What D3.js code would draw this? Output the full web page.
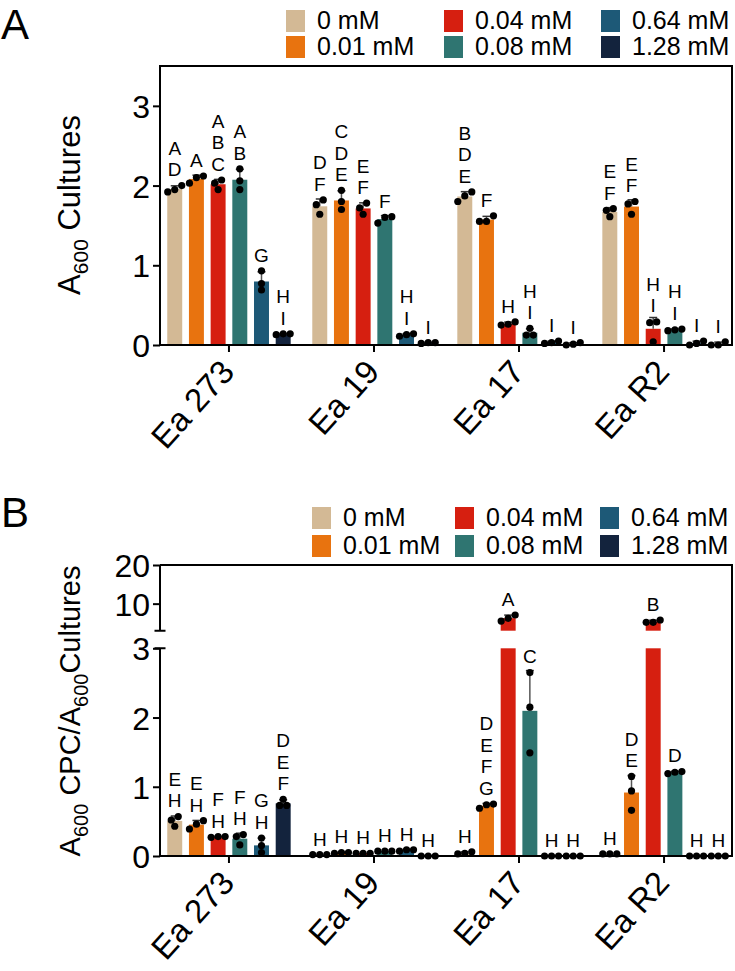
<!DOCTYPE html>
<html>
<head>
<meta charset="utf-8">
<script src="https://cdn.jsdelivr.net/npm/d3@7"></script>
<style>
  body { margin: 0; background: #fff; }
  svg { display: block; font-family: "Liberation Sans", Arial, sans-serif; }
</style>
</head>
<body>
<div id="chart"></div>
<script>
// groups and treatment concentrations
const groups = ["Ea 273", "Ea 19", "Ea 17", "Ea R2"];
const concs = ["0 mM", "0.01 mM", "0.04 mM", "0.08 mM", "0.64 mM", "1.28 mM"];
const colors = ["#D3B995", "#E8730F", "#D61F10", "#2F7571", "#1D5977", "#13233D"];

// panel A: A600 of cultures, three replicates per concentration
const growth273 = [[2.00, 1.92, 1.95], [2.12, 2.03, 2.10], [2.07, 1.95, 2.03], [2.21, 2.06, 1.95], [0.93, 0.77, 0.69], [0.13, 0.14, 0.14]];
const growth19 = [[1.82, 1.64, 1.76], [1.94, 1.80, 1.70], [1.78, 1.64, 1.72], [1.61, 1.53, 1.60], [0.11, 0.14, 0.13], [0.02, 0.03, 0.03]];
const growth17 = [[1.92, 1.80, 1.87], [1.55, 1.62, 1.55], [0.26, 0.29, 0.25], [0.125, 0.21, 0.125], [0.02, 0.05, 0.03], [0.00, 0.03, 0.01]];
const growthR2 = [[1.71, 1.61, 1.69], [1.80, 1.64, 1.77], [0.29, 0.28, 0.04], [0.19, 0.20, 0.18], [0.00, 0.05, 0.02], [0.00, 0.04, 0.00]];
const growthLetters = [
  ["AD", "A", "ABC", "AB", "G", "HI"],
  ["DF", "CDE", "EF", "F", "HI", "I"],
  ["BDE", "F", "H", "HI", "I", "I"],
  ["EF", "EF", "HI", "HI", "I", "I"]
];

// panel B: A600 CPC / A600 cultures
const ratio273 = [[0.57, 0.43, 0.52], [0.51, 0.39, 0.46], [0.27, 0.28, 0.28], [0.31, 0.16, 0.28], [0.26, 0.15, 0.05], [0.82, 0.73, 0.73]];
const ratio19 = [[0.02, 0.02, 0.02], [0.04, 0.05, 0.05], [0.04, 0.04, 0.04], [0.07, 0.07, 0.07], [0.07, 0.09, 0.09], [0.00, 0.00, 0.00]];
const ratio17 = [[0.03, 0.06, 0.04], [0.69, 0.75, 0.74], [5.5, 7.06, 6.2], [2.65, 2.15, 1.49], [0.00, 0.00, 0.00], [0.00, 0.00, 0.00]];
const ratioR2 = [[0.03, 0.03, 0.03], [1.15, 0.94, 0.66], [5.17, 5.77, 5.17], [1.21, 1.22, 1.19], [0.00, 0.00, 0.00], [0.00, 0.00, 0.00]];
const ratioLetters = [
  ["EH", "EH", "FH", "FH", "GH", "DEF"],
  ["H", "H", "H", "H", "H", "H"],
  ["H", "DEFG", "A", "C", "H", "H"],
  ["H", "DE", "B", "D", "H", "H"]
];

const yTicksA = [0, 1, 2, 3];
const yTicksBLow = [0, 1, 2, 3];
const yTicksBHigh = [10, 20];

const W = 735, H = 971;
const left = 160, right = 732;

const svg = d3.select("#chart").append("svg")
  .attr("width", W)
  .attr("height", H);

const x0 = d3.scaleBand().domain(groups).range([left, right + 1])
  .paddingInner(0.149).paddingOuter(0.05);
const x1 = d3.scaleBand().domain(concs).range([0, x0.bandwidth()])
  .paddingInner(0.31).paddingOuter(0);

function stats(pts) {
  const m = d3.mean(pts);
  const sd = d3.deviation(pts) || 0;
  return { m, sd };
}

// spread replicate dots sideways when they overlap
function dotOffsets(pts, yf) {
  const idx = pts.map((p, i) => i).sort((a, b) => pts[a] - pts[b]);
  const off = new Array(pts.length).fill(0);
  let cluster = [idx[0]];
  const flush = () => {
    const n = cluster.length;
    cluster.forEach((k, i) => { off[k] = (i - (n - 1) / 2) * 7; });
  };
  for (let i = 1; i < idx.length; i++) {
    if (Math.abs(yf(pts[idx[i]]) - yf(pts[cluster[cluster.length - 1]])) < 6) {
      cluster.push(idx[i]);
    } else { flush(); cluster = [idx[i]]; }
  }
  flush();
  return off;
}

function drawLegend(g, cols, rows) {
  concs.forEach((c, i) => {
    const cx = cols[Math.floor(i / 2)], cy = rows[i % 2];
    g.append("rect").attr("x", cx).attr("y", cy).attr("width", 19).attr("height", 22)
      .attr("fill", colors[i]);
    g.append("text").attr("x", cx + 31).attr("y", cy + 19)
      .attr("font-size", 25).text(c);
  });
}

function drawPanel(opts) {
  const g = svg.append("g");
  const { yf, data, letters, base } = opts;

  // bars
  data.forEach((rowVals, gi) => {
    rowVals.forEach((pts, ci) => {
      const bx = x0(groups[gi]) + x1(concs[ci]);
      const bw = x1.bandwidth();
      const s = stats(pts);
      const segs = opts.barSegments(s.m);
      segs.forEach(sg => {
        g.append("rect").attr("x", bx).attr("width", bw)
          .attr("y", Math.min(sg[0], sg[1])).attr("height", Math.abs(sg[1] - sg[0]))
          .attr("fill", colors[ci]);
      });
      const cxm = bx + bw / 2;
      // error bar (upper half)
      const yTop = yf(s.m + s.sd), yM = yf(s.m);
      if (s.sd > 0) {
        g.append("line").attr("x1", cxm).attr("x2", cxm).attr("y1", yM).attr("y2", yTop)
          .attr("stroke", "#555").attr("stroke-width", 1.5);
        g.append("line").attr("x1", cxm - 4).attr("x2", cxm + 4).attr("y1", yTop).attr("y2", yTop)
          .attr("stroke", "#333").attr("stroke-width", 1.5);
      }
      // points
      const off = dotOffsets(pts, yf);
      pts.forEach((p, k) => {
        g.append("circle").attr("cx", cxm + off[k]).attr("cy", yf(p)).attr("r", 3.6)
          .attr("fill", "#000");
      });
      // letters
      const top = Math.min(yTop, d3.min(pts, p => yf(p)) - 3.6);
      const ls = letters[gi][ci].split("");
      ls.forEach((L, k) => {
        g.append("text").attr("x", cxm).attr("y", top - 5.5 - (ls.length - 1 - k) * 21.5)
          .attr("text-anchor", "middle").attr("font-size", 19).text(L);
      });
    });
  });

  // x axis
  g.append("line").attr("x1", left - 1).attr("x2", right + 1).attr("y1", base).attr("y2", base)
    .attr("stroke", "#000").attr("stroke-width", 2);
  groups.forEach(gr => {
    const cx = x0(gr) + x0.bandwidth() / 2;
    g.append("line").attr("x1", cx).attr("x2", cx).attr("y1", base).attr("y2", base + 7)
      .attr("stroke", "#000").attr("stroke-width", 2);
    g.append("text")
      .attr("transform", `translate(${cx + 7},${base + 28}) rotate(-48)`)
      .attr("text-anchor", "end").attr("font-size", 33).text(gr);
  });
  return g;
}

// ---------- panel A ----------
const yA = d3.scaleLinear().domain([0, 3.5]).range([345, 66]);
svg.append("text").attr("x", 1).attr("y", 39).attr("font-size", 42).text("A");
drawLegend(svg.append("g"), [286, 444, 601], [10, 36]);

const gA = drawPanel({
  yf: yA,
  data: [growth273, growth19, growth17, growthR2],
  letters: growthLetters,
  base: 345,
  barSegments: m => [[yA(0), yA(m)]]
});
// frame
gA.append("path").attr("d", `M${left},345V66H${right}V345`)
  .attr("fill", "none").attr("stroke", "#000").attr("stroke-width", 2);
gA.append("g").attr("transform", `translate(${left},0)`)
  .call(d3.axisLeft(yA).tickValues(yTicksA).tickSize(7).tickPadding(3).tickFormat(d3.format("d")))
  .call(a => a.select(".domain").remove())
  .call(a => a.selectAll("line").attr("stroke-width", 2))
  .call(a => a.selectAll("text").attr("font-size", 32).attr("font-family", "Liberation Sans, Arial, sans-serif").attr("dy", "0.36em"));

const titleA = svg.append("text").attr("transform", "translate(80,205) rotate(-90)")
  .attr("text-anchor", "middle").attr("font-size", 31);
titleA.append("tspan").text("A");
titleA.append("tspan").attr("font-size", 21).attr("dy", 8).text("600");
titleA.append("tspan").attr("dy", -8).text(" Cultures");

// ---------- panel B (broken axis) ----------
const yBLow = d3.scaleLinear().domain([0, 3]).range([856, 648.3]);
const yBHigh = d3.scaleLinear().domain([3, 20]).range([630.7, 565]);
const yB = v => v <= 3 ? yBLow(v) : yBHigh(v);

svg.append("text").attr("x", 1).attr("y", 527).attr("font-size", 42).text("B");
drawLegend(svg.append("g"), [312, 455, 600], [507, 535]);

const gB = drawPanel({
  yf: yB,
  data: [ratio273, ratio19, ratio17, ratioR2],
  letters: ratioLetters,
  base: 856,
  barSegments: m => m <= 3 ? [[yBLow(0), yBLow(m)]] : [[yBLow(0), yBLow(3)], [yBHigh(3), yBHigh(m)]]
});
gB.append("path").attr("d", `M${left},565H${right}V856`)
  .attr("fill", "none").attr("stroke", "#000").attr("stroke-width", 2);
// left axis segments with caps
gB.append("path")
  .attr("d", `M${left},856V${yBLow(3)}M${left - 5.5},${yBLow(3)}H${left + 5.5}` +
             `M${left},565V${yBHigh(3)}M${left - 5.5},${yBHigh(3)}H${left + 5.5}`)
  .attr("fill", "none").attr("stroke", "#000").attr("stroke-width", 2);
[[yBLow, yTicksBLow], [yBHigh, yTicksBHigh]].forEach(([sc, tv]) => {
  gB.append("g").attr("transform", `translate(${left},0)`)
    .call(d3.axisLeft(sc).tickValues(tv).tickSize(7).tickPadding(3).tickFormat(d3.format("d")))
    .call(a => a.select(".domain").remove())
    .call(a => a.selectAll("line").attr("stroke-width", 2))
    .call(a => a.selectAll("text").attr("font-size", 32).attr("font-family", "Liberation Sans, Arial, sans-serif").attr("dy", "0.36em"));
});

const titleB = svg.append("text").attr("transform", "translate(80,711) rotate(-90)")
  .attr("text-anchor", "middle").attr("font-size", 29);
titleB.append("tspan").text("A");
titleB.append("tspan").attr("font-size", 20).attr("dy", 8).text("600");
titleB.append("tspan").attr("dy", -8).text(" CPC/A");
titleB.append("tspan").attr("font-size", 20).attr("dy", 8).text("600");
titleB.append("tspan").attr("dy", -8).text("Cultures");
</script>
</body>
</html>
